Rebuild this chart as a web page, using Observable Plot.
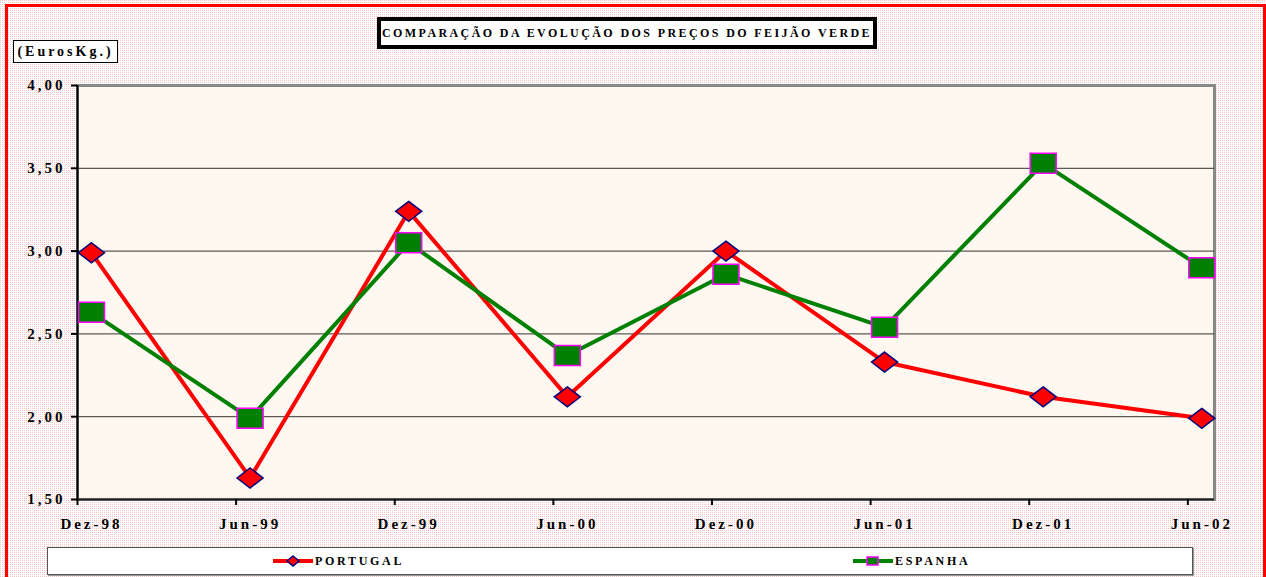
<!DOCTYPE html>
<html>
<head>
<meta charset="utf-8">
<script src="https://cdn.jsdelivr.net/npm/d3@7"></script>
<script src="https://cdn.jsdelivr.net/npm/@observablehq/plot@0.6"></script>
<style>
  html, body { margin: 0; padding: 0; }
  #wrap {
    position: relative; width: 1266px; height: 577px; overflow: hidden;
    background-color: #fff;
    background-image: url("data:image/svg+xml,%3Csvg xmlns='http://www.w3.org/2000/svg' width='2' height='2'%3E%3Crect width='2' height='2' fill='%23ffffff'/%3E%3Crect width='1' height='1' fill='%23f8c4c4'/%3E%3C/svg%3E");
    font-family: "Liberation Serif", "Times New Roman", serif;
  }
  #redborder {
    position: absolute; left: 5px; top: 4px; right: 0; height: 640px;
    border: 3px solid #ff0000; box-sizing: border-box;
  }
  #plot { position: absolute; left: 0; top: 0; }
  #plot svg text { letter-spacing: 3px; }
  .box {
    position: absolute; background: #fff; color: #000; font-weight: bold;
    display: flex; align-items: center; justify-content: center; white-space: nowrap;
    box-sizing: border-box;
  }
  #title { left: 377px; top: 17px; width: 500px; height: 32px; border: 4px solid #000;
    font-size: 12px; letter-spacing: 2.4px; }
  #ylab { left: 13px; top: 40px; width: 105px; height: 23px; border: 1.5px solid #000;
    font-size: 14px; letter-spacing: 3px; }
  #legend { position: absolute; left: 47px; top: 547px; width: 1146px; height: 28px;
    background: #fff; border: 1px solid #555; box-sizing: border-box; box-shadow: 1px 1px 0 #999; }
  .legtxt { position: absolute; top: 0; height: 26px; line-height: 26px; font-size: 12px;
    font-weight: bold; letter-spacing: 2.7px; }
  .legsym { position: absolute; top: 0; }
</style>
</head>
<body>
<div id="wrap">
  <div id="plot"></div>
  <div id="redborder"></div>
  <div id="title" class="box">COMPARAÇÃO DA EVOLUÇÃO DOS PREÇOS DO FEIJÃO VERDE</div>
  <div id="ylab" class="box">(EurosKg.)</div>
  <div id="legend">
    <svg class="legsym" style="left:224px" width="42" height="26">
      <line x1="1" y1="13" x2="41" y2="13" stroke="#ff0000" stroke-width="4"/>
      <path d="M21,8 L27,13 L21,18 L15,13 Z" fill="#ff0000" stroke="#000080" stroke-width="1.5"/>
    </svg>
    <div class="legtxt" style="left:267px">PORTUGAL</div>
    <svg class="legsym" style="left:804px" width="42" height="26">
      <line x1="1" y1="13" x2="41" y2="13" stroke="#008000" stroke-width="4"/>
      <rect x="15" y="9" width="11" height="8" fill="#008000" stroke="#ff00ff" stroke-width="1.5"/>
    </svg>
    <div class="legtxt" style="left:847px">ESPANHA</div>
  </div>
</div>
<script>
const categories = ["Dez-98", "Jun-99", "Dez-99", "Jun-00", "Dez-00", "Jun-01", "Dez-01", "Jun-02"];
const portugal = [2.99, 1.63, 3.24, 2.12, 3.00, 2.33, 2.12, 1.99];
const espanha = [2.63, 1.99, 3.05, 2.37, 2.86, 2.54, 3.53, 2.90];
const yTicks = [1.5, 2.0, 2.5, 3.0, 3.5, 4.0];

const idx = categories.map((_, i) => i);
const ptRows = portugal.map((v, i) => ({i, cat: categories[i], value: v}));
const esRows = espanha.map((v, i) => ({i, cat: categories[i], value: v}));
const tickOffset = 0.088;
const catTicks = idx.map(i => i - tickOffset);

const diamond = {draw(ctx) { ctx.moveTo(0, -10); ctx.lineTo(13, 0); ctx.lineTo(0, 10); ctx.lineTo(-13, 0); ctx.closePath(); }};
const square = {draw(ctx) { ctx.rect(-13, -10, 26, 20); }};

const fontFamily = '"Liberation Serif", "Times New Roman", serif';

const chart = Plot.plot({
  width: 1266,
  height: 577,
  marginLeft: 77,
  marginRight: 52,
  marginTop: 85,
  marginBottom: 78,
  style: {background: "transparent", fontFamily, color: "#000", overflow: "visible"},
  x: {type: "linear", domain: [-tickOffset, 7.08]},
  y: {domain: [1.5, 4.0]},
  marks: [
    Plot.frame({fill: "url(#creamdots)", stroke: "#888888", strokeWidth: 3}),
    Plot.ruleY(yTicks.filter(d => d > 1.5 && d < 4), {stroke: "#333", strokeWidth: 1}),
    Plot.ruleX([-tickOffset], {stroke: "#000", strokeWidth: 2}),
    Plot.ruleY([1.5], {stroke: "#222", strokeWidth: 2}),
    Plot.axisY({ticks: yTicks, tickSize: 6, tickPadding: 6, strokeWidth: 2, stroke: "#000",
      tickFormat: d => d.toFixed(2).replace(".", ","), fontSize: 15, fontWeight: "bold", fill: "#000", label: null}),
    Plot.axisX({ticks: catTicks, tickSize: 6, strokeWidth: 2, stroke: "#000", tickFormat: () => "", label: null}),
    Plot.axisX({ticks: idx, tickSize: 0, tickPadding: 19, tickFormat: i => categories[i],
      fontSize: 15, fontWeight: "bold", fill: "#000", label: null}),
    Plot.line(ptRows, {x: "i", y: "value", stroke: "#ff0000", strokeWidth: 4}),
    Plot.dot(ptRows, {x: "i", y: "value", symbol: diamond, fill: "#ff0000", stroke: "#000080", strokeWidth: 1.5}),
    Plot.line(esRows, {x: "i", y: "value", stroke: "#008000", strokeWidth: 4}),
    Plot.dot(esRows, {x: "i", y: "value", symbol: square, fill: "#008000", stroke: "#ff00ff", strokeWidth: 1.5})
  ]
});

const ns = "http://www.w3.org/2000/svg";
const defs = document.createElementNS(ns, "defs");
defs.innerHTML = '<pattern id="creamdots" width="2" height="2" patternUnits="userSpaceOnUse">' +
  '<rect width="2" height="2" fill="#ffffff"/><rect width="1" height="1" fill="#fde2c6"/></pattern>';
chart.insertBefore(defs, chart.firstChild);
document.getElementById("plot").appendChild(chart);
</script>
</body>
</html>
